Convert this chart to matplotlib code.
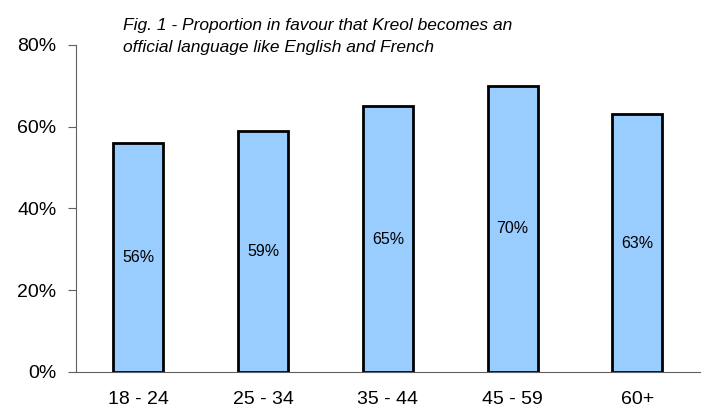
import matplotlib.pyplot as plt

plt.rcParams['font.family'] = ['Liberation Sans', 'DejaVu Sans']

# age groups and share in favour (%)
groups = ['18 - 24', '25 - 34', '35 - 44', '45 - 59', '60+']
values = [56, 59, 65, 70, 63]
yticks = [0, 20, 40, 60, 80]

fig = plt.figure(figsize=(7.04, 4.11), dpi=100)
ax = fig.add_axes([0.108, 0.095, 0.886, 0.796])

bars = ax.bar(range(len(groups)), values, width=0.4, color='#99CCFF',
              edgecolor='black', linewidth=2)
for i, v in enumerate(values):
    ax.text(i, v / 2, f'{v}%', ha='center', va='center', fontsize=11.5)

ax.set_xlim(-0.5, len(groups) - 0.5)
ax.set_ylim(0, 80)
ax.set_yticks(yticks)
ax.set_yticklabels([f'{t}%' for t in yticks], fontsize=14)
ax.set_xticks(range(len(groups)))
ax.set_xticklabels(groups, fontsize=14)
ax.tick_params(axis='x', length=0, pad=14)
ax.tick_params(axis='y', length=6, color='#606060', pad=8)

for s in ['top', 'right']:
    ax.spines[s].set_visible(False)
ax.spines['left'].set_color('#606060')
ax.spines['bottom'].set_color('#606060')

fig.text(0.175, 0.955, 'Fig. 1 - Proportion in favour that Kreol becomes an\n'
         'official language like English and French',
         ha='left', va='top', fontsize=12.5, style='italic', linespacing=1.55)

plt.savefig('out.png', dpi=100)
